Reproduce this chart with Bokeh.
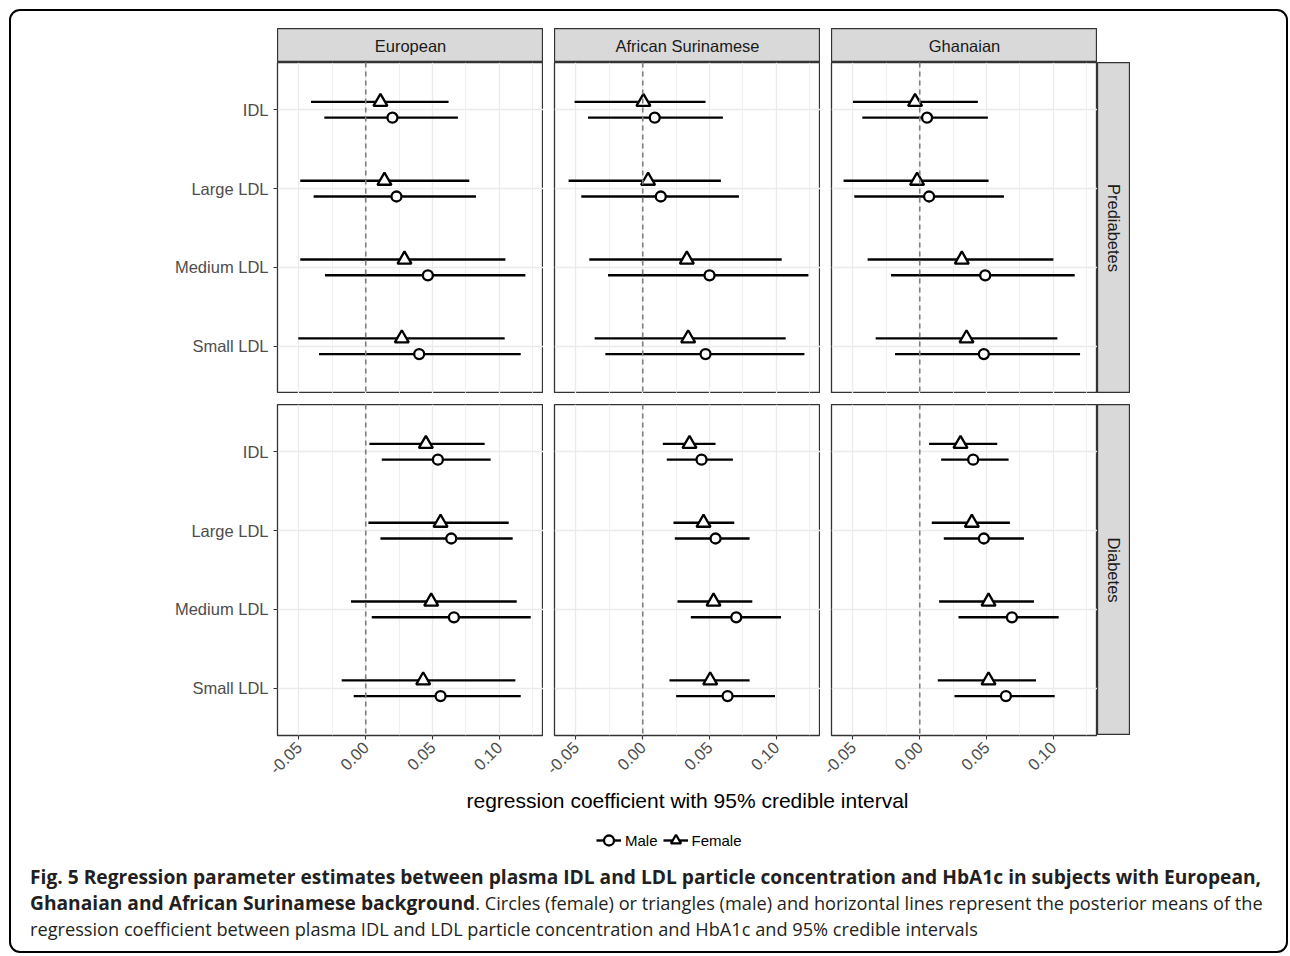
import math
from bokeh.plotting import figure
from bokeh.layouts import column, row
from bokeh.models import (Range1d, FactorRange, Span, Label, Div, Spacer, Legend,
                          LegendItem, FixedTicker, ColumnDataSource, NumeralTickFormatter)
from bokeh.transform import dodge
from bokeh.embed import file_html
from bokeh.resources import INLINE

# ---------------- data ----------------
lipids = ["IDL", "Large LDL", "Medium LDL", "Small LDL"]
ancestries = ["European", "African Surinamese", "Ghanaian"]
statuses = ["Prediabetes", "Diabetes"]
sexes = ["Male", "Female"]
x_ticks = [-0.05, 0.00, 0.05, 0.10]
x_minor_ticks = [-0.025, 0.025, 0.075, 0.125]
x_title = "regression coefficient with 95% credible interval"

# Prediabetes - European
pre_eur_f_est = [0.011, 0.014, 0.029, 0.027]
pre_eur_f_lo = [-0.041, -0.049, -0.049, -0.0505]
pre_eur_f_hi = [0.062, 0.0775, 0.1045, 0.104]
pre_eur_m_est = [0.020, 0.023, 0.0465, 0.040]
pre_eur_m_lo = [-0.031, -0.039, -0.0305, -0.035]
pre_eur_m_hi = [0.069, 0.0825, 0.1195, 0.116]
# Prediabetes - African Surinamese
pre_afs_f_est = [0.0005, 0.004, 0.033, 0.034]
pre_afs_f_lo = [-0.051, -0.0555, -0.040, -0.036]
pre_afs_f_hi = [0.047, 0.0585, 0.104, 0.107]
pre_afs_m_est = [0.009, 0.0135, 0.050, 0.047]
pre_afs_m_lo = [-0.041, -0.046, -0.026, -0.028]
pre_afs_m_hi = [0.060, 0.072, 0.124, 0.121]
# Prediabetes - Ghanaian
pre_gha_f_est = [-0.0035, -0.002, 0.0315, 0.035]
pre_gha_f_lo = [-0.050, -0.057, -0.039, -0.033]
pre_gha_f_hi = [0.0435, 0.0515, 0.100, 0.103]
pre_gha_m_est = [0.0055, 0.007, 0.049, 0.048]
pre_gha_m_lo = [-0.043, -0.049, -0.0215, -0.0185]
pre_gha_m_hi = [0.051, 0.063, 0.116, 0.120]
# Diabetes - European
dia_eur_f_est = [0.045, 0.056, 0.049, 0.043]
dia_eur_f_lo = [0.00275, 0.002, -0.011, -0.018]
dia_eur_f_hi = [0.089, 0.107, 0.113, 0.112]
dia_eur_m_est = [0.054, 0.064, 0.066, 0.056]
dia_eur_m_lo = [0.012, 0.011, 0.0045, -0.009]
dia_eur_m_hi = [0.0935, 0.110, 0.1235, 0.116]
# Diabetes - African Surinamese
dia_afs_f_est = [0.035, 0.0455, 0.053, 0.0505]
dia_afs_f_lo = [0.015, 0.023, 0.026, 0.020]
dia_afs_f_hi = [0.0545, 0.0685, 0.082, 0.080]
dia_afs_m_est = [0.044, 0.0545, 0.070, 0.0635]
dia_afs_m_lo = [0.018, 0.024, 0.036, 0.025]
dia_afs_m_hi = [0.0675, 0.080, 0.1035, 0.099]
# Diabetes - Ghanaian
dia_gha_f_est = [0.0305, 0.039, 0.0515, 0.0515]
dia_gha_f_lo = [0.007, 0.009, 0.0145, 0.0135]
dia_gha_f_hi = [0.058, 0.0675, 0.0855, 0.087]
dia_gha_m_est = [0.040, 0.048, 0.069, 0.0645]
dia_gha_m_lo = [0.016, 0.018, 0.029, 0.026]
dia_gha_m_hi = [0.0665, 0.078, 0.104, 0.101]

panels = {
    ("Prediabetes", "European"): ((pre_eur_m_est, pre_eur_m_lo, pre_eur_m_hi), (pre_eur_f_est, pre_eur_f_lo, pre_eur_f_hi)),
    ("Prediabetes", "African Surinamese"): ((pre_afs_m_est, pre_afs_m_lo, pre_afs_m_hi), (pre_afs_f_est, pre_afs_f_lo, pre_afs_f_hi)),
    ("Prediabetes", "Ghanaian"): ((pre_gha_m_est, pre_gha_m_lo, pre_gha_m_hi), (pre_gha_f_est, pre_gha_f_lo, pre_gha_f_hi)),
    ("Diabetes", "European"): ((dia_eur_m_est, dia_eur_m_lo, dia_eur_m_hi), (dia_eur_f_est, dia_eur_f_lo, dia_eur_f_hi)),
    ("Diabetes", "African Surinamese"): ((dia_afs_m_est, dia_afs_m_lo, dia_afs_m_hi), (dia_afs_f_est, dia_afs_f_lo, dia_afs_f_hi)),
    ("Diabetes", "Ghanaian"): ((dia_gha_m_est, dia_gha_m_lo, dia_gha_m_hi), (dia_gha_f_est, dia_gha_f_lo, dia_gha_f_hi)),
}

# shared x scale (ggplot-like 5% expansion of the data range)
all_lo = min(min(s[1]) for v in panels.values() for s in v)
all_hi = max(max(s[2]) for v in panels.values() for s in v)
pad = 0.05 * (all_hi - all_lo)
X_START, X_END = all_lo - pad, all_hi + pad

# ---------------- styling ----------------
FONT = "Liberation Sans"
FRAME_W, FRAME_H = 266, 331
GAP = 11
LEFT = 266
STRIP = 34
BOTTOM = 48
LINE_W = 2.4


def add_marks(p, status, anc):
    (m_est, m_lo, m_hi), (f_est, f_lo, f_hi) = panels[(status, anc)]
    src_m = ColumnDataSource(dict(lipid=lipids, est=m_est, lo=m_lo, hi=m_hi))
    src_f = ColumnDataSource(dict(lipid=lipids, est=f_est, lo=f_lo, hi=f_hi))
    ym = dodge("lipid", -0.1, range=p.y_range)
    yf = dodge("lipid", 0.1, range=p.y_range)
    sm = p.segment(x0="lo", x1="hi", y0=ym, y1=ym, source=src_m, line_color="black",
                   line_width=LINE_W)
    sf = p.segment(x0="lo", x1="hi", y0=yf, y1=yf, source=src_f, line_color="black",
                   line_width=LINE_W)
    pm = p.scatter(x="est", y=ym, source=src_m, marker="circle", size=10, line_width=2.3,
                   line_color="black", fill_color="white")
    pf = p.scatter(x="est", y=yf, source=src_f, marker="triangle", size=14, line_width=2.3,
                   line_color="black", fill_color="white")
    return (sm, pm), (sf, pf)


def panel(status, anc, show_y, show_x):
    p = figure(frame_width=FRAME_W, frame_height=FRAME_H,
               x_range=Range1d(X_START, X_END),
               y_range=FactorRange(factors=lipids[::-1], range_padding=0.05),
               toolbar_location=None, output_backend="svg", min_border=0)
    p.min_border_left = LEFT if show_y else GAP
    p.min_border_bottom = BOTTOM if show_x else 0
    p.outline_line_color = "#333333"
    p.outline_line_width = 1.3

    p.xaxis.ticker = FixedTicker(ticks=x_ticks, minor_ticks=x_minor_ticks)
    p.xaxis.formatter = NumeralTickFormatter(format="0.00")
    p.xgrid.grid_line_color = "#EBEBEB"
    p.xgrid.grid_line_width = 1.3
    p.xgrid.minor_grid_line_color = "#EBEBEB"
    p.xgrid.minor_grid_line_width = 0.8
    p.ygrid.grid_line_color = "#EBEBEB"
    p.ygrid.grid_line_width = 1.3

    for ax in (p.xaxis[0], p.yaxis[0]):
        ax.axis_line_color = None
        ax.major_tick_line_color = "#333333"
        ax.major_tick_line_width = 1.1
        ax.major_tick_in = 0
        ax.major_tick_out = 4
        ax.minor_tick_line_color = None
        ax.major_label_text_font = FONT
        ax.major_label_text_font_size = "16.5px"
        ax.major_label_text_color = "#4D4D4D"
        ax.major_label_standoff = 5
    p.xaxis.major_label_orientation = math.pi / 4
    p.xaxis.visible = show_x
    p.yaxis.visible = show_y

    p.add_layout(Span(location=0, dimension="height", line_color="#7F7F7F",
                      line_width=1.6, line_dash="5 4"))
    add_marks(p, status, anc)
    return p


def strip(text, w, h, vertical=False):
    s = figure(frame_width=w, frame_height=h, x_range=Range1d(0, 1), y_range=Range1d(0, 1),
               x_axis_location=None, y_axis_location=None, toolbar_location=None,
               output_backend="svg", min_border=0)
    s.grid.visible = False
    s.background_fill_color = "#D9D9D9"
    s.outline_line_color = "#333333"
    s.outline_line_width = 1.3
    s.add_layout(Label(x=0.5, y=0.5, text=text, text_align="center", text_baseline="middle",
                       angle=(-math.pi / 2 if vertical else 0), text_font=FONT,
                       text_font_size="16.5px", text_color="#1A1A1A"))
    return s


strip_row = row(Spacer(width=LEFT, height=STRIP), strip(ancestries[0], FRAME_W, STRIP),
                Spacer(width=GAP, height=STRIP), strip(ancestries[1], FRAME_W, STRIP),
                Spacer(width=GAP, height=STRIP), strip(ancestries[2], FRAME_W, STRIP))

row1 = row(panel(statuses[0], ancestries[0], True, False),
           panel(statuses[0], ancestries[1], False, False),
           panel(statuses[0], ancestries[2], False, False),
           strip(statuses[0], 33, FRAME_H, vertical=True))

row2 = row(panel(statuses[1], ancestries[0], True, True),
           panel(statuses[1], ancestries[1], False, True),
           panel(statuses[1], ancestries[2], False, True),
           strip(statuses[1], 33, FRAME_H, vertical=True))

# axis title + legend strip under the panels
BOT_W, BOT_H = 3 * FRAME_W + 2 * GAP, 79
# the legend proxies reuse one panel's data; this figure's x range lies past the data,
# so only their legend glyphs are shown
leg = figure(frame_width=BOT_W, frame_height=BOT_H, min_border=0,
             x_range=Range1d(X_END + 1, X_END + 2),
             y_range=FactorRange(factors=lipids[::-1]),
             x_axis_location=None, y_axis_location=None, toolbar_location=None,
             output_backend="svg")
leg.min_border_left = LEFT
leg.grid.visible = False
leg.outline_line_color = None
leg.add_layout(Label(x=BOT_W / 2, y=BOT_H - 17, x_units="screen",
                     y_units="screen", text=x_title, text_align="center",
                     text_baseline="middle", text_font=FONT, text_font_size="21px",
                     text_color="black"))
(lm_seg, lm_pt), (lf_seg, lf_pt) = add_marks(leg, statuses[1], ancestries[0])
legend = Legend(items=[LegendItem(label=sexes[0], renderers=[lm_seg, lm_pt]),
                       LegendItem(label=sexes[1], renderers=[lf_seg, lf_pt])],
                orientation="horizontal", location=(319, 8), border_line_color=None,
                background_fill_alpha=0, glyph_width=25, glyph_height=28, label_standoff=4,
                spacing=5, padding=0, margin=0, label_text_font=FONT,
                label_text_font_size="15px", label_text_color="black")
leg.add_layout(legend)

caption_html = ("<span style='font-weight:bold;font-size:19.2px'>Fig. 5 Regression parameter "
                "estimates between plasma IDL and LDL particle concentration and HbA1c in "
                "subjects with European,<br>Ghanaian and African Surinamese background</span>. "
                "Circles (female) or triangles (male) and horizontal lines represent the "
                "posterior means of the<br>regression coefficient between plasma IDL and LDL "
                "particle concentration and HbA1c and 95% credible intervals")
caption = Div(text=caption_html, width=1256, margin=(2, 0, 9, 19),
              styles={"font-family": "Open Sans", "font-size": "18.2px", "line-height": "26px",
                      "color": "#231F20", "white-space": "nowrap"})

inner = column(Spacer(width=10, height=17), strip_row, row1, Spacer(width=10, height=GAP),
               row2, leg, caption,
               styles={"border": "2px solid black", "border-radius": "11px"})
layout = column(Spacer(width=10, height=9), row(Spacer(width=9, height=10), inner))

open("out.html", "w").write(file_html(layout, INLINE))
